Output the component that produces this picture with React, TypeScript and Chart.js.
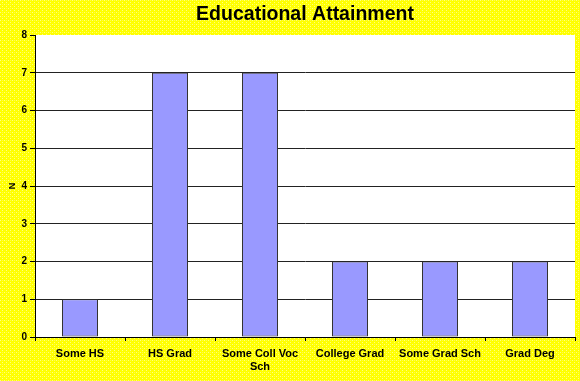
import React, { useEffect, useRef } from "react";
import { Chart, registerables } from "chart.js";

Chart.register(...registerables);

const categories: (string | string[])[] = [
  "Some HS",
  "HS Grad",
  ["Some Coll Voc", "Sch"],
  "College Grad",
  "Some Grad Sch",
  "Grad Deg",
];
const counts = [1, 7, 7, 2, 2, 2];
const titleText = "Educational Attainment";
const yTitle = "N";

const bgPlugin = {
  id: "bgPlugin",
  beforeDraw(chart: any) {
    const { ctx, width, height, chartArea } = chart;
    ctx.save();
    const pc = document.createElement("canvas");
    pc.width = 4;
    pc.height = 4;
    const p = pc.getContext("2d")!;
    p.fillStyle = "#FFFF00";
    p.fillRect(0, 0, 4, 4);
    p.fillStyle = "#FFFF80";
    p.fillRect(0, 0, 1, 1);
    p.fillRect(2, 2, 1, 1);
    p.fillStyle = "#FFFF40";
    p.fillRect(2, 0, 1, 1);
    const pat = ctx.createPattern(pc, "repeat");
    ctx.fillStyle = pat || "#FFFF33";
    ctx.fillRect(0, 0, width, height);
    ctx.fillStyle = "#FFFFFF";
    ctx.fillRect(
      chartArea.left,
      chartArea.top,
      chartArea.right - chartArea.left,
      chartArea.bottom - chartArea.top
    );
    ctx.restore();
  },
};

export default function App() {
  const ref = useRef<HTMLCanvasElement>(null);
  useEffect(() => {
    document.body.style.margin = "0";
    const chart = new Chart(ref.current!, {
      type: "bar",
      data: {
        labels: categories,
        datasets: [
          {
            data: counts,
            backgroundColor: "#9999FF",
            borderColor: "#333333",
            borderWidth: 1,
            borderSkipped: false,
            categoryPercentage: 1,
            barPercentage: 0.4,
          },
        ],
      },
      options: {
        responsive: false,
        animation: false,
        layout: { padding: { left: 0, right: 5, top: 0, bottom: 0 } },
        plugins: {
          legend: { display: false },
          tooltip: { enabled: false },
          title: {
            display: true,
            fullSize: false,
            text: titleText,
            color: "#000000",
            font: { family: "Arial, 'Liberation Sans'", size: 19.5, weight: "bold", lineHeight: 1.2 },
            padding: { top: 3, bottom: 8.6 },
          },
        },
        scales: {
          x: {
            offset: true,
            grid: {
              display: true,
              drawOnChartArea: false,
              drawTicks: true,
              tickLength: 4,
              offset: true,
              color: "#000000",
            },
            border: { display: true, color: "#000000", width: 1 },
            ticks: {
              color: "#000000",
              padding: 6,
              maxRotation: 0,
              autoSkip: false,
              font: { family: "Arial, 'Liberation Sans'", size: 11, weight: "bold", lineHeight: 1.2 },
            },
            afterFit(scale: any) {
              scale.height = 44;
            },
          },
          y: {
            min: 0,
            max: 8,
            ticks: {
              stepSize: 1,
              color: "#000000",
              padding: 3,
              font: { family: "Arial, 'Liberation Sans'", size: 10, weight: "bold" },
            },
            grid: {
              color: (c: any) => (c.tick && c.tick.value === 8 ? "rgba(0,0,0,0)" : "#222222"),
              tickColor: "#000000",
              tickLength: 5,
              lineWidth: 1,
            },
            border: { display: true, color: "#000000", width: 1 },
            title: {
              display: true,
              text: yTitle,
              color: "#000000",
              padding: { top: 7, bottom: 0 },
              font: { family: "Arial, 'Liberation Sans'", size: 9, weight: "bold" },
            },
            afterFit(scale: any) {
              scale.width = 35;
            },
          },
        },
      },
      plugins: [bgPlugin],
    });
    return () => chart.destroy();
  }, []);
  return <canvas ref={ref} width={580} height={381} style={{ display: "block" }} />;
}
